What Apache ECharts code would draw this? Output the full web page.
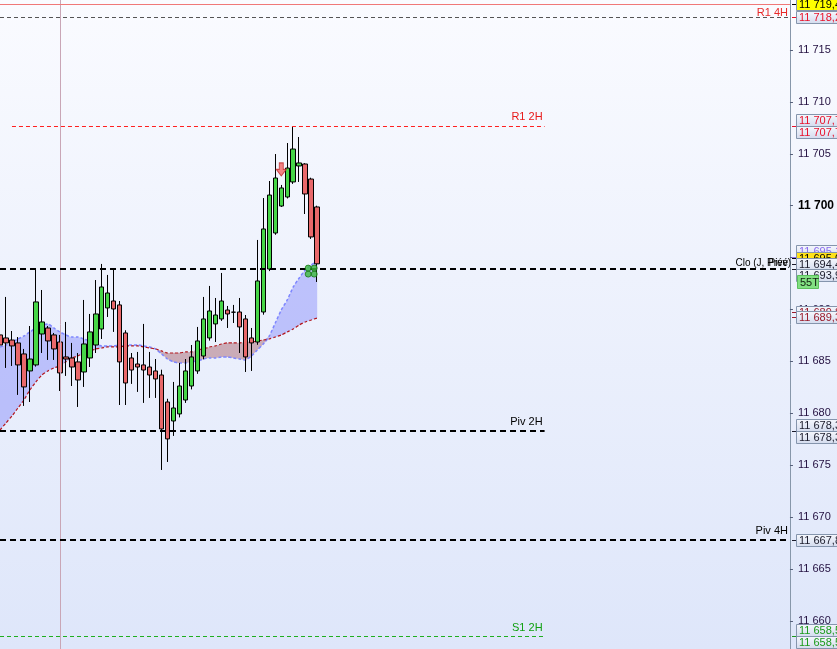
<!DOCTYPE html>
<html><head><meta charset="utf-8">
<script src="https://cdn.jsdelivr.net/npm/echarts@6/dist/echarts.min.js"></script>
<style>html,body{margin:0;padding:0;overflow:hidden;background:#fff}#c{width:837px;height:649px}</style>
</head><body><div id="c"></div>
<script>
// ---- DATA ----
// candles: [open, close, low, high]
const candles = [
 [11687.55,11686.58,11684.85,11689.67],
 [11687.26,11686.78,11684.37,11691.21],
 [11687.06,11686.49,11684.56,11687.93],
 [11686.78,11684.66,11681.77,11687.35],
 [11685.72,11682.54,11680.71,11686.20],
 [11684.08,11685.23,11681.09,11688.41],
 [11684.66,11690.73,11684.50,11693.81],
 [11687.64,11688.80,11685.81,11691.88],
 [11688.22,11686.97,11685.14,11688.41],
 [11687.55,11686.20,11685.14,11687.74],
 [11686.87,11683.89,11682.15,11687.55],
 [11685.43,11685.23,11683.60,11688.80],
 [11685.33,11684.46,11682.63,11686.78],
 [11684.95,11683.21,11680.61,11685.81],
 [11683.98,11686.68,11682.54,11690.92],
 [11685.33,11687.84,11684.46,11689.57],
 [11686.58,11689.57,11685.81,11692.84],
 [11688.12,11692.17,11687.16,11694.39],
 [11690.15,11691.59,11689.28,11693.33],
 [11690.82,11690.05,11687.84,11693.81],
 [11690.44,11684.95,11680.80,11690.82],
 [11687.74,11682.92,11680.80,11688.00],
 [11685.33,11684.17,11682.83,11685.81],
 [11684.75,11684.46,11682.06,11685.91],
 [11684.66,11684.17,11681.00,11688.61],
 [11684.46,11683.69,11681.48,11685.91],
 [11684.08,11683.31,11681.48,11685.23],
 [11683.69,11678.49,11674.54,11684.20],
 [11681.09,11677.53,11675.31,11681.40],
 [11679.26,11680.51,11677.82,11683.02],
 [11679.94,11682.63,11679.60,11684.85],
 [11681.28,11684.08,11681.00,11685.23],
 [11682.63,11685.43,11682.30,11686.58],
 [11684.08,11686.97,11683.80,11688.32],
 [11685.52,11689.09,11685.20,11691.21],
 [11687.26,11689.86,11687.00,11692.27],
 [11688.61,11689.47,11686.87,11691.11],
 [11689.09,11690.82,11688.90,11693.52],
 [11689.95,11689.57,11688.22,11690.34],
 [11689.74,11689.74,11688.70,11690.44],
 [11689.76,11688.32,11685.81,11691.11],
 [11689.09,11685.43,11683.98,11689.47],
 [11687.26,11686.78,11684.08,11688.22],
 [11686.87,11692.75,11686.60,11696.70],
 [11689.76,11697.76,11689.50,11700.74],
 [11693.90,11701.03,11693.70,11702.38],
 [11697.37,11702.67,11697.20,11704.98],
 [11699.97,11701.71,11699.88,11702.00],
 [11700.84,11703.63,11700.70,11706.04],
 [11702.29,11705.46,11702.10,11707.58],
 [11703.83,11704.12,11702.29,11706.62],
 [11704.02,11701.13,11699.20,11704.10],
 [11702.57,11696.99,11696.80,11702.70],
 [11699.88,11694.40,11692.65,11700.00]
];
// blue dashed span
const spanA = [11686.39,11686.58,11686.87,11687.16,11687.45,11687.84,11688.22,11688.51,11688.61,11688.22,
 11687.84,11687.55,11687.35,11687.35,11687.16,11686.97,11686.68,11686.49,11686.49,11686.49,
 11686.58,11686.58,11686.58,11686.58,11686.49,11686.39,11686.20,11685.72,11685.23,11684.95,
 11684.85,11684.85,11684.95,11685.04,11685.23,11685.33,11685.33,11685.43,11685.43,11685.33,
 11685.23,11685.14,11685.52,11686.10,11686.68,11687.45,11688.70,11689.95,11690.92,11692.17,
 11693.04,11693.81,11694.29,11694.68];
// dark red dashed span
const spanB = [11678.39,11679.07,11679.74,11680.51,11681.28,11682.25,11683.02,11683.69,11684.08,11684.37,
 11684.56,11684.95,11685.33,11685.52,11685.81,11686.01,11686.20,11686.29,11686.39,11686.39,
 11686.39,11686.49,11686.49,11686.49,11686.39,11686.29,11686.20,11686.01,11685.81,11685.81,
 11685.81,11685.91,11685.91,11686.10,11686.20,11686.39,11686.49,11686.68,11686.78,11686.78,
 11686.78,11686.87,11686.87,11686.97,11687.06,11687.16,11687.35,11687.55,11687.84,11688.12,
 11688.51,11688.80,11688.99,11689.18];
const slotCount = 133;
const categories = Array.from({length: slotCount}, (_, i) => String(i));
const tickValues = [11660,11665,11670,11675,11680,11685,11690,11695,11700,11705,11710,11715];
const tickLabels = ['11 660','11 665','11 670','11 675','11 680','11 685','11 690','11 695','11 700','11 705','11 710','11 715'];
const arrowPoint = [47, 11703.5];
const cloverPoint = [52, 11693.7];
const levelR14H = 11719.4, levelHigh = 11718.2, levelR12H = 11707.7, levelClo = 11693.9;
const levelPiv2H = 11678.3, levelPiv4H = 11667.8, levelS12H = 11658.5;
const verticalMarkIndex = 10;
const priceBoxes = [
 {v:11719.4, t:'11 719,4', c:'#000000', bg:'#ffff00', p:'center'},
 {v:11718.2, t:'11 718,2', c:'#e8102a', p:'center'},
 {v:11707.7, t:'11 707,7', c:'#e8102a', p:'above'},
 {v:11707.7, t:'11 707,7', c:'#e8102a', p:'below'},
 {v:11695.1, t:'11 695,1', c:'#8a6af0', p:'above'},
 {v:11695.0, t:'11 695,0', c:'#000000', bg:'#ffe21a', p:'center'},
 {v:11694.4, t:'11 694,4', c:'#1a1a2a', p:'center'},
 {v:11693.9, t:'11 693,9', c:'#1a1a2a', p:'below'},
 {v:11689.8, t:'11 689,8', c:'#9a1a2a', p:'center'},
 {v:11689.3, t:'11 689,3', c:'#9a1a2a', p:'center'},
 {v:11678.3, t:'11 678,3', c:'#1a1a2a', p:'above'},
 {v:11678.3, t:'11 678,3', c:'#1a1a2a', p:'below'},
 {v:11667.8, t:'11 667,8', c:'#1a1a2a', p:'center'},
 {v:11658.5, t:'11 658,5', c:'#1a9a1a', p:'above'},
 {v:11658.5, t:'11 658,5', c:'#1a9a1a', p:'below'}
];

// ---- derived cloud fill ----
const cloudBase = spanA.map((a, i) => Math.min(a, spanB[i]));
const cloudUp = spanA.map((a, i) => Math.max(0, a - spanB[i]));
const cloudDown = spanA.map((a, i) => Math.max(0, spanB[i] - a));

const FONT = 'Liberation Sans, Arial, sans-serif';
const chart = echarts.init(document.getElementById('c'), null, {renderer: 'canvas'});

function lvl(v, color, width, type, label, labelColor, pos, from, to) {
  const lineStyle = {color, width, type};
  const lab = label ? {show: true, formatter: label, position: pos, color: labelColor, fontSize: 11, fontFamily: FONT, distance: [2, 3]} : {show: false};
  if (from == null) return {yAxis: v, lineStyle, label: lab};
  return [{coord: [from, v], lineStyle, label: lab}, {coord: [to, v]}];
}

chart.setOption({
  animation: false,
  backgroundColor: {type: 'linear', x: 0, y: 0, x2: 0, y2: 1,
    colorStops: [{offset: 0, color: '#fafbff'}, {offset: 1, color: '#dee6fa'}]},
  grid: {left: 0, right: 45, top: 0, bottom: 0, containLabel: false},
  xAxis: {type: 'category', data: categories, boundaryGap: false, show: false},
  yAxis: {
    type: 'value', position: 'right', min: 11657.29, max: 11719.82, scale: true,
    axisLine: {show: true, lineStyle: {color: '#8797aa', width: 1}},
    axisTick: {show: true, length: 3, customValues: tickValues, lineStyle: {color: '#56607a'}},
    axisLabel: {
      customValues: tickValues, margin: 8, color: '#231040', fontSize: 11, fontFamily: FONT,
      formatter: (v) => {
        const i = tickValues.findIndex(t => Math.abs(t - v) < 1e-6);
        const s = i >= 0 ? tickLabels[i] : '';
        return v === 11700 ? '{b|' + s + '}' : s;
      },
      rich: {b: {fontWeight: 'bold', fontSize: 12, color: '#000', fontFamily: FONT}}
    },
    splitLine: {show: false}
  },
  series: [
    {type: 'line', data: cloudBase, stack: 'cloud', symbol: 'none', smooth: 0.2,
      lineStyle: {opacity: 0}, silent: true, z: 1},
    {type: 'line', data: cloudUp, stack: 'cloud', symbol: 'none', smooth: 0.2,
      lineStyle: {opacity: 0}, areaStyle: {color: 'rgba(110,115,250,0.38)', opacity: 1}, silent: true, z: 1},
    {type: 'line', data: cloudDown, stack: 'cloud', symbol: 'none', smooth: 0.2,
      lineStyle: {opacity: 0}, areaStyle: {color: 'rgba(150,60,70,0.38)', opacity: 1}, silent: true, z: 1},
    {type: 'line', data: spanA, symbol: 'none', smooth: 0.2,
      lineStyle: {color: '#7d86ff', width: 1.5, type: [3, 2]}, z: 2},
    {type: 'line', data: spanB, symbol: 'none', smooth: 0.2,
      lineStyle: {color: '#b3161c', width: 1.2, type: [3, 2]}, z: 2},
    {type: 'candlestick', data: candles, barWidth: 5, z: 3,
      itemStyle: {color: '#47d647', color0: '#e8686a', borderColor: '#000', borderColor0: '#000', borderColorDoji: '#000', borderWidth: 1},
      markLine: {
        symbol: 'none', silent: true, animation: false, precision: 2,
        data: [
          {xAxis: verticalMarkIndex, lineStyle: {color: '#c9a6b6', width: 1, type: 'solid'}, label: {show: false}},
          lvl(levelR14H, '#f07878', 1, 'solid', 'R1 4H', '#e82828', 'insideEndBottom'),
          lvl(levelHigh, '#555555', 1, [4, 3], null),
          lvl(levelR12H, '#ff2020', 1, [4, 3], 'R1 2H', '#e81818', 'insideEndTop', 2, 91),
          lvl(levelClo, '#000000', 2, [6, 4], null),
          lvl(levelPiv2H, '#000000', 2, [6, 4], 'Piv 2H', '#000000', 'insideEndTop', 0, 91),
          lvl(levelPiv4H, '#000000', 2, [6, 4], 'Piv 4H', '#000000', 'insideEndTop'),
          lvl(levelS12H, '#1fae1f', 1, [4, 3], 'S1 2H', '#10a010', 'insideEndTop', 0, 91)
        ]
      }
    },
    {type: 'scatter', data: [arrowPoint], z: 5, symbol: 'path://M3,0L7,0L7,6L10,6L5,12L0,6L3,6Z',
      symbolSize: [10, 13], itemStyle: {color: '#f06464', borderColor: '#c02a2a', borderWidth: 1}},
    {type: 'scatter', data: [cloverPoint], z: 5,
      symbol: 'path://M0,3a3,3 0 1,0 6,0a3,3 0 1,0 -6,0M6,3a3,3 0 1,0 6,0a3,3 0 1,0 -6,0M0,9a3,3 0 1,0 6,0a3,3 0 1,0 -6,0M6,9a3,3 0 1,0 6,0a3,3 0 1,0 -6,0',
      symbolSize: 12, itemStyle: {color: '#3dba3d', borderColor: '#187818', borderWidth: 1}}
  ]
});

// ---- right-side price boxes & labels, positioned from values ----
const gfx = [];
const yPix = v => chart.convertToPixel({yAxisIndex: 0}, v);
const axisX = 792;
const boxGrad = {type: 'linear', x: 0, y: 0, x2: 0, y2: 1, colorStops: [{offset: 0, color: '#f6f8fd'}, {offset: 1, color: '#d3dbee'}]};
priceBoxes.forEach((b, i) => {
  const y = yPix(b.v);
  const h = 12;
  const top = b.p === 'above' ? y - h : (b.p === 'below' ? y : y - h / 2);
  const z = 20 + i * 3;
  gfx.push({type: 'line', z: z, shape: {x1: axisX, y1: Math.round(y) + 0.5, x2: axisX + 5, y2: Math.round(y) + 0.5}, style: {stroke: b.c, lineWidth: 1}});
  gfx.push({type: 'rect', z: z + 1, shape: {x: 796.5, y: Math.round(top) + 0.5, width: 48, height: h},
    style: {fill: b.bg || boxGrad, stroke: '#8595ad', lineWidth: 1}});
  gfx.push({type: 'text', z: z + 2, x: 799, y: Math.round(top) + 0.5 + h / 2 + 0.5,
    style: {text: b.t, fill: b.c, font: '11px ' + FONT, verticalAlign: 'middle', align: 'left'}});
});
// 55T tag
const yClo = yPix(levelClo);
gfx.push({type: 'rect', z: 90, shape: {x: 797.5, y: Math.round(yClo) + 6.5, width: 21, height: 13},
  style: {fill: '#82e082', stroke: '#5cc05c', lineWidth: 1}});
gfx.push({type: 'text', z: 91, x: 800, y: Math.round(yClo) + 13.5,
  style: {text: '55T', fill: '#102010', font: '11px ' + FONT, verticalAlign: 'middle', align: 'left'}});
// Clo label (overlapping texts)
gfx.push({type: 'text', z: 91, x: 791, y: yClo - 6,
  style: {text: 'Clo (J, Prév)', fill: '#000', font: '10px ' + FONT, verticalAlign: 'middle', align: 'right'}});
gfx.push({type: 'text', z: 91, x: 788, y: yClo - 6,
  style: {text: 'Pivé', fill: '#000', font: '10px ' + FONT, verticalAlign: 'middle', align: 'right'}});
chart.setOption({graphic: gfx});
</script>
</body></html>
